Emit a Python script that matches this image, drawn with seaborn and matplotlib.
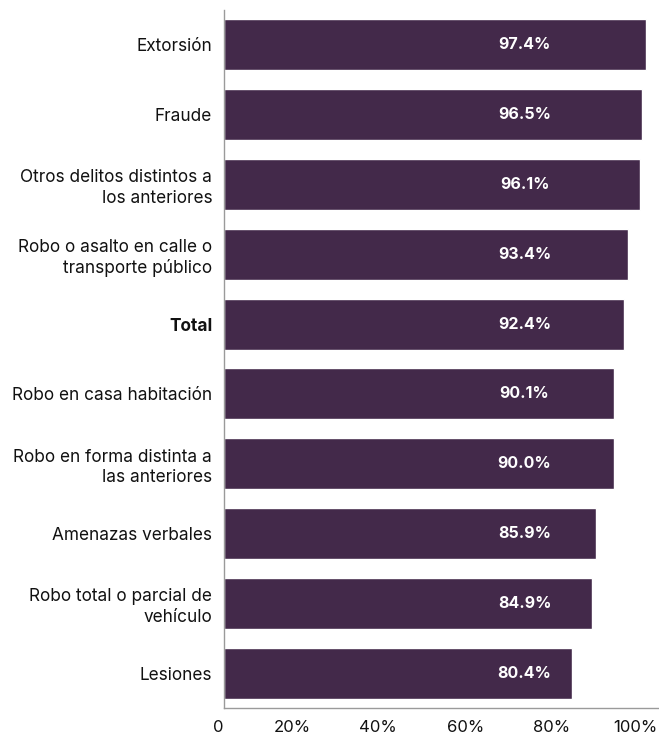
import pandas as pd
import matplotlib.pyplot as plt
import seaborn as sns

# --- Veri ---
delitos = [
    "Extorsión",
    "Fraude",
    "Otros delitos distintos a\nlos anteriores",
    "Robo o asalto en calle o\ntransporte público",
    "Total",
    "Robo en casa habitación",
    "Robo en forma distinta a\nlas anteriores",
    "Amenazas verbales",
    "Robo total o parcial de\nvehículo",
    "Lesiones",
]
porcentajes = [97.4, 96.5, 96.1, 93.4, 92.4, 90.1, 90.0, 85.9, 84.9, 80.4]
x_ticks = [0, 20, 40, 60, 80, 100]
x_tick_labels = ["0", "20%", "40%", "60%", "80%", "100%"]

df = pd.DataFrame({"delito": delitos, "pct": porcentajes})

sns.set_theme(style="white")
plt.rcParams["font.family"] = ["Inter", "DejaVu Sans"]

color_barra = "#43294A"
color_eje = "#9a9a9a"
color_texto = "#111111"

fig = plt.figure(figsize=(6.59, 7.37), dpi=100)
ax = fig.add_axes([224 / 659, 29 / 737, 435 / 659, 698 / 737])

sns.barplot(data=df, x="pct", y="delito", orient="h", color=color_barra,
            width=0.73, saturation=1, ax=ax)

# etiquetas dentro de las barras (posición fija)
for i, v in enumerate(porcentajes):
    ax.text(69.4, i, f"{v:.1f}%", ha="center", va="center",
            color="white", fontsize=11.5, fontweight="bold")

ax.set_xlim(0, 100.46)
ax.set_ylim(len(delitos) - 0.5, -0.5)
ax.set_xticks(x_ticks)
ax.set_xticklabels(x_tick_labels, fontsize=12, color=color_texto, ha="right")
ax.set_xlabel("")
ax.set_ylabel("")
ax.tick_params(axis="x", direction="in", length=9, width=1, color=color_eje, pad=9)
ax.tick_params(axis="y", length=0, pad=8.5)
for lbl in ax.get_yticklabels():
    lbl.set_fontsize(12.4)
    lbl.set_color(color_texto)
    lbl.set_ha("right")
    lbl.set_multialignment("right")
    lbl.set_linespacing(1.25)
    if lbl.get_text() == "Total":
        lbl.set_fontweight("bold")

for s in ["top", "right"]:
    ax.spines[s].set_visible(False)
for s in ["left", "bottom"]:
    ax.spines[s].set_color(color_eje)
    ax.spines[s].set_linewidth(1)

plt.savefig("out.png", dpi=100)
